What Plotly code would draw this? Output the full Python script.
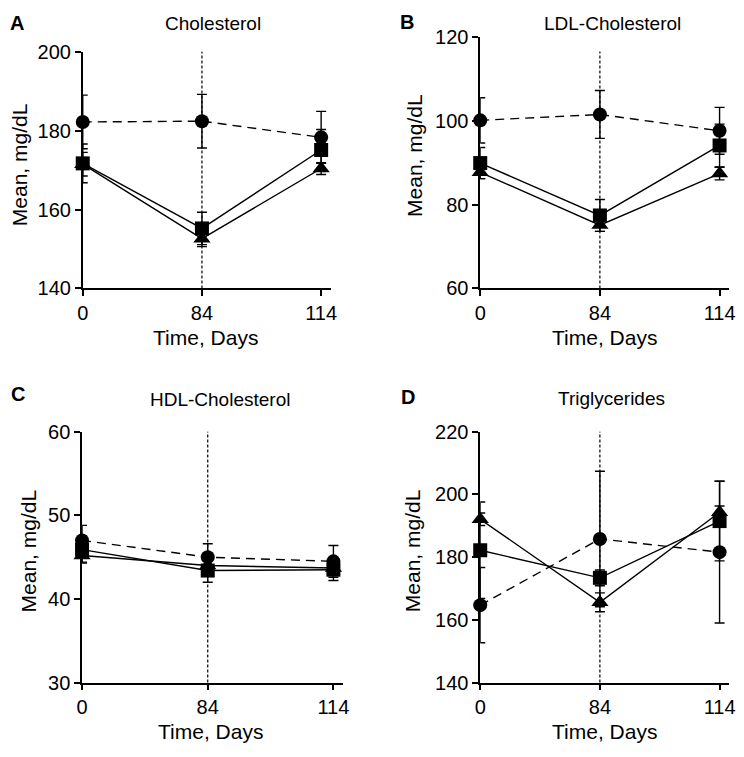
import plotly.graph_objects as go

# Time points (shown as evenly spaced categories)
days = ["0", "84", "114"]

# Panel titles / letters
panel_titles = ["Cholesterol", "LDL-Cholesterol", "HDL-Cholesterol", "Triglycerides"]
panel_letters = ["A", "B", "C", "D"]

# Cholesterol
chol_circle = [182.2, 182.4, 178.3]
chol_circle_err = [6.8, 6.8, 6.6]
chol_square = [171.7, 155.2, 175.1]
chol_square_err = [4.9, 4.1, 5.2]
chol_triangle = [171.5, 152.6, 170.4]
chol_triangle_err = [3.0, 2.0, 1.5]

# LDL-Cholesterol
ldl_circle = [100.1, 101.5, 97.6]
ldl_circle_err = [5.4, 5.7, 5.6]
ldl_square = [89.9, 77.4, 94.1]
ldl_square_err = [3.7, 3.8, 5.1]
ldl_triangle = [87.7, 75.1, 87.4]
ldl_triangle_err = [1.5, 1.5, 1.5]

# HDL-Cholesterol
hdl_circle = [47.0, 45.0, 44.5]
hdl_circle_err = [1.8, 1.6, 1.9]
hdl_square = [45.9, 43.4, 43.5]
hdl_square_err = [1.6, 1.4, 1.3]
hdl_triangle = [45.2, 44.0, 43.7]
hdl_triangle_err = [0.8, 0.8, 0.8]

# Triglycerides
tg_circle = [164.7, 185.8, 181.6]
tg_circle_err = [12.0, 21.6, 22.6]
tg_square = [182.2, 173.4, 191.5]
tg_square_err = [15.4, 2.5, 12.7]
tg_triangle = [192.1, 165.6, 194.3]
tg_triangle_err = [2.0, 3.0, 2.0]

# y axis ticks per panel
chol_ticks = [140, 160, 180, 200]
ldl_ticks = [60, 80, 100, 120]
hdl_ticks = [30, 40, 50, 60]
tg_ticks = [140, 160, 180, 200, 220]

W, H = 744, 757
FONT = "Arial, 'Liberation Sans', Helvetica, sans-serif"

panels = [
    dict(series=[(chol_triangle, chol_triangle_err, "triangle-up"),
                 (chol_square, chol_square_err, "square"),
                 (chol_circle, chol_circle_err, "circle")],
         ticks=chol_ticks, box=(78, 330, 42, 285.7), vtop=1.0),
    dict(series=[(ldl_triangle, ldl_triangle_err, "triangle-up"),
                 (ldl_square, ldl_square_err, "square"),
                 (ldl_circle, ldl_circle_err, "circle")],
         ticks=ldl_ticks, box=(482, 735, 26.7, 285.7), vtop=0.942),
    dict(series=[(hdl_triangle, hdl_triangle_err, "triangle-up"),
                 (hdl_square, hdl_square_err, "square"),
                 (hdl_circle, hdl_circle_err, "circle")],
         ticks=hdl_ticks, box=(77.3, 343, 433.3, 691.7), vtop=1.0),
    dict(series=[(tg_triangle, tg_triangle_err, "triangle-up"),
                 (tg_square, tg_square_err, "square"),
                 (tg_circle, tg_circle_err, "circle")],
         ticks=tg_ticks, box=(482, 735, 433.3, 691.7), vtop=1.0),
]

# pixel positions of the panel texts (x, y)
letter_pos = [(11, 12), (408, 11), (12, 394), (409, 398)]
title_pos = [(210, 13), (616, 13), (218, 400), (615, 399)]
ytitle_pos = [(14, 158), (415, 149), (23, 556), (414, 556)]
xtitle_pos = [(203, 336), (608, 336), (208, 742), (608, 742)]

xpos = list(range(len(days)))

fig = go.Figure()
annotations = []
shapes = []

for i, p in enumerate(panels):
    n = "" if i == 0 else str(i + 1)
    xref, yref = "x" + n, "y" + n
    for values, errs, symbol in p["series"]:
        dashed = symbol == "circle"
        fig.add_trace(go.Scatter(
            x=xpos, y=values, xaxis=xref, yaxis=yref,
            mode="lines+markers", cliponaxis=False, showlegend=False,
            line=dict(color="black", width=1.4, dash="9px,6px" if dashed else "solid"),
            marker=dict(symbol=symbol, size=14 if symbol != "triangle-up" else 15, color="black"),
            error_y=dict(type="data", array=errs, visible=True, color="black",
                         thickness=1.4, width=5),
        ))

    x0, x1, y0, y1 = p["box"]
    ticks = p["ticks"]
    axis_style = dict(showline=True, linecolor="black", linewidth=1.5, ticks="outside",
                      ticklen=6, tickwidth=1.5, tickcolor="black", showgrid=False,
                      zeroline=False, tickfont=dict(family=FONT, size=20, color="black"))
    fig.layout["xaxis" + n] = dict(axis_style, domain=[x0 / W, x1 / W], anchor=yref,
                                   range=[0, 2.08], tickvals=xpos, ticktext=days)
    fig.layout["yaxis" + n] = dict(axis_style, domain=[1 - y1 / H, 1 - y0 / H], anchor=xref,
                                   range=[ticks[0], ticks[-1]], tickvals=ticks)

    # dotted reference line at day 84
    shapes.append(dict(type="line", xref=xref, yref=yref + " domain",
                       x0=1, x1=1, y0=0, y1=p["vtop"], layer="below",
                       line=dict(color="black", width=1.2, dash="3px,2px")))

    lx, ly = letter_pos[i]
    annotations.append(dict(text="<b>" + panel_letters[i] + "</b>", x=lx / W, y=1 - ly / H,
                            font=dict(family=FONT, size=20, color="black")))
    tx, ty = title_pos[i]
    annotations.append(dict(text=panel_titles[i], x=tx / W, y=1 - ty / H,
                            font=dict(family=FONT, size=19, color="black")))
    yx, yy = ytitle_pos[i]
    annotations.append(dict(text="Mean, mg/dL", x=yx / W, y=1 - yy / H, textangle=-90,
                            font=dict(family=FONT, size=21, color="black")))
    xx, xy = xtitle_pos[i]
    annotations.append(dict(text="Time, Days", x=xx / W, y=1 - xy / H,
                            font=dict(family=FONT, size=21, color="black")))

for a in annotations:
    a.update(xref="paper", yref="paper", showarrow=False, xanchor="center", yanchor="middle")

fig.update_layout(
    width=W, height=H, autosize=False,
    margin=dict(l=0, r=0, t=0, b=0),
    paper_bgcolor="white", plot_bgcolor="white",
    annotations=annotations, shapes=shapes,
    font=dict(family=FONT, color="black"),
)

# the page's default body margin would shift the figure, so drop it
fig.write_html("out.html", config={"displayModeBar": False},
               post_script="document.body.style.margin='0';")
